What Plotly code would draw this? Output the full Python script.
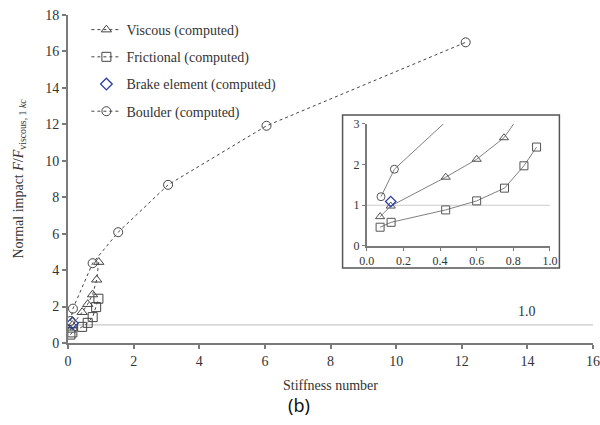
import plotly.graph_objects as go

# ---- data ----
viscous_x = [0.073, 0.131, 0.431, 0.60, 0.749, 0.875, 0.936]
viscous_y = [0.72, 0.98, 1.69, 2.13, 2.66, 3.47, 4.44]
frictional_x = [0.073, 0.133, 0.431, 0.60, 0.752, 0.858, 0.927]
frictional_y = [0.46, 0.58, 0.885, 1.107, 1.42, 1.97, 2.43]
brake_x = [0.131]
brake_y = [1.09]
boulder_x = [0.078, 0.151, 0.75, 1.53, 3.05, 6.05, 12.12]
boulder_y = [1.21, 1.886, 4.38, 6.08, 8.68, 11.92, 16.5]
ref_x = [0, 16]
ref_y = [1.0, 1.0]
inset_ref_x = [0, 1.0]

main_ticks_x = [0, 2, 4, 6, 8, 10, 12, 14, 16]
main_ticks_y = [0, 2, 4, 6, 8, 10, 12, 14, 16, 18]
inset_ticks_x = [0.0, 0.2, 0.4, 0.6, 0.8, 1.0]
inset_ticks_y = [0, 1, 2, 3]

SERIF = "Liberation Serif, Times New Roman, serif"
DARK = "#444444"
BLUE = "#2b3fa6"
TXT = "#333333"

fig = go.Figure()

# reference line (main)
fig.add_trace(go.Scatter(x=ref_x, y=ref_y, mode="lines", showlegend=False,
                         line=dict(color="#c8c8c8", width=1.2), hoverinfo="skip"))

series = [
    ("Viscous (computed)", viscous_x, viscous_y, "triangle-up-open", DARK, True),
    ("Frictional (computed)", frictional_x, frictional_y, "square-open", DARK, True),
    ("Brake element (computed)", brake_x, brake_y, "diamond-open", BLUE, False),
    ("Boulder (computed)", boulder_x, boulder_y, "circle-open", DARK, True),
]
for i, (name, xs, ys, sym, col, lines) in enumerate(series):
    fig.add_trace(go.Scatter(
        x=xs, y=ys, name=name, legendgroup=f"g{i}",
        mode="lines+markers" if lines else "markers",
        line=dict(color=DARK, width=1, dash="dot"),
        marker=dict(symbol=sym, size=9, color=col, line=dict(color=col, width=1.3 if col == BLUE else 1)),
    ))

# inset traces
fig.add_trace(go.Scatter(x=inset_ref_x, y=ref_y, mode="lines", showlegend=False,
                         xaxis="x2", yaxis="y2",
                         line=dict(color="#cccccc", width=1.2), hoverinfo="skip"))
for i, (name, xs, ys, sym, col, lines) in enumerate(series):
    fig.add_trace(go.Scatter(
        x=xs, y=ys, name=name, showlegend=False,
        xaxis="x2", yaxis="y2",
        mode="lines+markers" if lines else "markers",
        line=dict(color="#808080", width=1),
        marker=dict(symbol=sym, size=8, color=col if col == BLUE else "#555555",
                    line=dict(color=col if col == BLUE else "#555555", width=1.3 if col == BLUE else 1)),
    ))

axis_common = dict(showgrid=False, zeroline=False, showline=True, linecolor="#7a7a7a",
                   linewidth=2, ticks="outside", ticklen=4, tickcolor="#7a7a7a", tickwidth=1.5,
                   automargin=False,
                   tickfont=dict(family=SERIF, size=14, color=TXT))
inset_common = dict(showgrid=False, zeroline=False, showline=True, linecolor="#7a7a7a", linewidth=1.5,
                    ticks="outside", ticklen=3, tickcolor="#7a7a7a", automargin=False,
                    tickfont=dict(family=SERIF, size=12, color=TXT))

fig.update_layout(
    width=600, height=425,
    margin=dict(l=68, r=7, t=15, b=82, autoexpand=False),
    paper_bgcolor="white", plot_bgcolor="white",
    font=dict(family=SERIF, color=TXT, size=14),
    xaxis=dict(range=[0, 16], tickvals=main_ticks_x, **axis_common,
               title=dict(text="Stiffness number", font=dict(family=SERIF, size=14, color=TXT),
                          standoff=12)),
    yaxis=dict(range=[0, 18], tickvals=main_ticks_y, **axis_common,
               title=dict(text="Normal impact <i>F</i>/<i>F</i><sub>viscous, 1 <i>kc</i></sub>",
                          font=dict(family=SERIF, size=14, color=TXT), standoff=18)),
    xaxis2=dict(domain=[0.569, 0.918], anchor="y2", range=[0, 1.0],
                tickvals=inset_ticks_x, ticktext=[f"{v:.1f}" for v in inset_ticks_x], **inset_common),
    yaxis2=dict(domain=[0.296, 0.668], anchor="x2", range=[0, 3],
                tickvals=inset_ticks_y, **inset_common),
    legend=dict(x=0.035, y=1.003, xanchor="left", yanchor="top", bgcolor="rgba(0,0,0,0)",
                traceorder="grouped", tracegroupgap=6,
                font=dict(family=SERIF, size=14, color=TXT)),
    shapes=[dict(type="rect", xref="paper", yref="paper", x0=0.523, x1=0.936, y0=0.229, y1=0.695,
                 line=dict(color="#555555", width=1.5), fillcolor="white", layer="below")],
    annotations=[
        dict(x=14, y=1, xref="x", yref="y", text="1.0", showarrow=False, yshift=13,
             font=dict(family=SERIF, size=14, color=TXT)),
        dict(x=0.44, y=-0.19, xref="paper", yref="paper", text="(b)", showarrow=False,
             xanchor="center", yanchor="middle",
             font=dict(family="Noto Sans", size=18, color="#111111")),
    ],
)

fig.write_html("out.html", config={"displayModeBar": False},
               post_script="document.body.style.margin='0px';document.body.style.overflow='hidden';")
